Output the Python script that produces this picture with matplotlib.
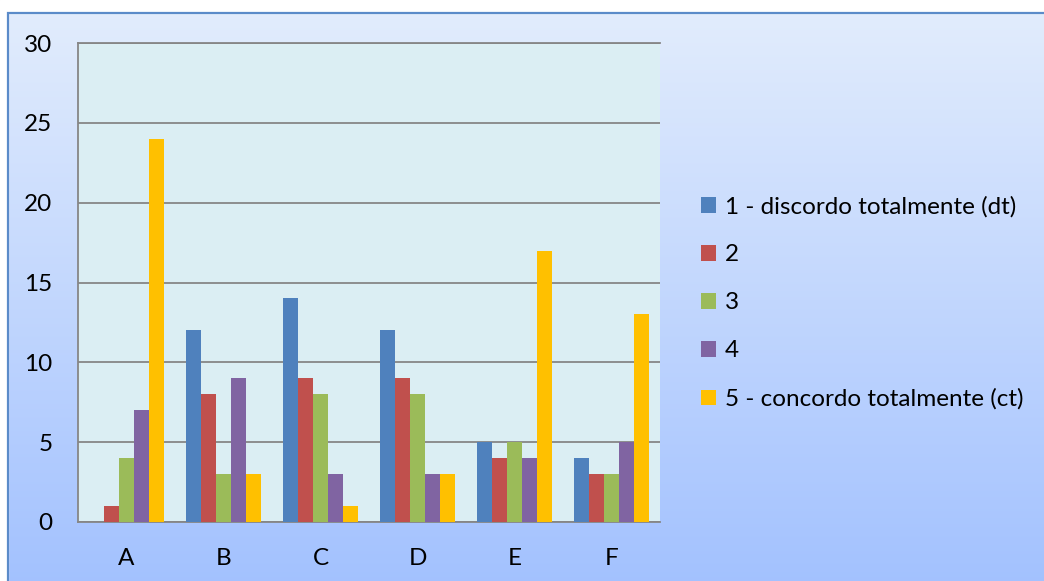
#!/usr/bin/env python3
"""Grouped bar chart of agreement scale answers (A-F)."""

import numpy as np
import matplotlib.pyplot as plt
from matplotlib.patches import Rectangle

CATEGORIES = ["A", "B", "C", "D", "E", "F"]
SERIES = [
    "1 - discordo totalmente (dt)",
    "2",
    "3",
    "4",
    "5 - concordo totalmente (ct)",
]
V1 = [0, 12, 14, 12, 5, 4]
V2 = [1, 8, 9, 9, 4, 3]
V3 = [4, 3, 8, 8, 5, 3]
V4 = [7, 9, 3, 3, 4, 5]
V5 = [24, 3, 1, 3, 17, 13]
VALUES = [V1, V2, V3, V4, V5]
YTICKS = [0, 5, 10, 15, 20, 25, 30]

COLORS = ["#4F81BD", "#C0504D", "#9BBB59", "#8064A2", "#FFC000"]
W, H = 1044, 581
DPI = 100
FONT = "Lato"
FS = 17.5

plt.rcParams.update({"font.family": [FONT, "DejaVu Sans"]})


def main():
    fig = plt.figure(figsize=(W / DPI, H / DPI), dpi=DPI)

    # background gradient
    bg = fig.add_axes([0, 0, 1, 1], zorder=-10)
    grad = np.linspace(0, 1, 256)[:, None]
    top = np.array([0.89, 0.93, 0.99])
    bot = np.array([0.64, 0.76, 1.0])
    img = top[None, None, :] * (1 - grad[..., None]) + bot[None, None, :] * grad[..., None]
    img = np.repeat(img, 2, axis=1)
    bg.imshow(img, aspect="auto", extent=[0, 1, 0, 1], origin="upper")
    bg.set_xlim(0, 1)
    bg.set_ylim(0, 1)
    bg.axis("off")
    # white strip top-left outside the frame
    bg.add_patch(Rectangle((0, 1 - 13 / H), 1, 13 / H, color="white", zorder=2))
    bg.add_patch(Rectangle((0, 0), 8 / W, 1, color="white", zorder=2))
    bg.add_patch(Rectangle((8 / W, -0.1), 1.2, 1 - 13 / H + 0.1, fill=False,
                           edgecolor="#5B8BC9", linewidth=1.6, zorder=3))

    left, right, top_px, bottom_px = 78, 660, 43, 522
    ax = fig.add_axes([left / W, 1 - bottom_px / H, (right - left) / W,
                       (bottom_px - top_px) / H])
    ax.set_facecolor("#DBEEF3")

    x = np.arange(len(CATEGORIES))
    bw = 0.155
    for i, (name, vals) in enumerate(zip(SERIES, VALUES)):
        ax.bar(x + (i - 2) * bw, vals, width=bw, color=COLORS[i], label=name,
               zorder=3)

    ax.set_xlim(-0.5, len(CATEGORIES) - 0.5)
    ax.set_ylim(0, 30)
    ax.set_yticks(YTICKS)
    ax.set_xticks(x)
    ax.set_xticklabels(CATEGORIES)
    ax.grid(True, axis="y", color="#868686", linewidth=1.3, zorder=1)
    ax.tick_params(axis="both", length=0, labelsize=FS, colors="black")
    ax.tick_params(axis="y", pad=18.5)
    ax.tick_params(axis="x", pad=19)
    for name, sp in ax.spines.items():
        sp.set_color("#868686")
        sp.set_linewidth(1.3)
        if name == "right":
            sp.set_visible(False)

    handles, labels = ax.get_legend_handles_labels()
    fig.legend(handles, labels, loc="upper left",
               bbox_to_anchor=(701 / W, 1 - 196 / H), frameon=False,
               fontsize=FS, handlelength=0.62, handleheight=0.62,
               handletextpad=0.37, labelspacing=1.11, borderaxespad=0,
               borderpad=0)

    fig.savefig("out.png", dpi=DPI)
    plt.close(fig)


if __name__ == "__main__":
    main()
